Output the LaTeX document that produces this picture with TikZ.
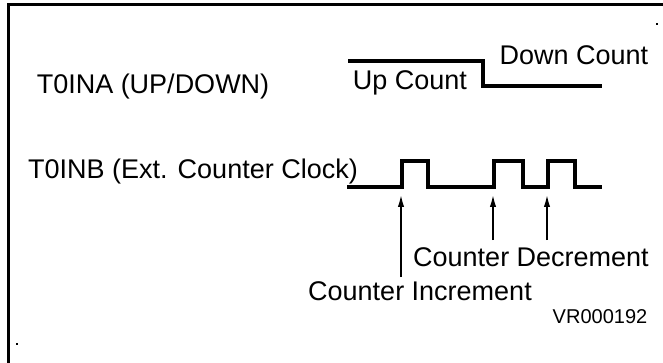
\documentclass[tikz,border=0pt]{standalone}
\usepackage{fontspec}
\setmainfont{Liberation Sans}
\usetikzlibrary{arrows.meta}
\tikzset{
  wave/.style={line width=2pt, line join=miter},
  caption/.style={inner sep=0pt, font=\fontsize{13.5}{15}\selectfont},
  pointer/.style={line width=1pt, -{Latex[length=6.5pt,width=3.2pt]}},
}
\begin{document}
\begin{tikzpicture}[x=0.5pt,y=-0.5pt]
  \useasboundingbox (0,0) rectangle (663,363);
  \clip (0,0) rectangle (663,363);
  % frame
  \draw[line width=1.5pt] (8,370) -- (8,5) -- (670,5);
  \fill (656,23) rectangle (658,25);
  \fill (16,343) rectangle (18,345);

  % signal names
  \node[caption] (ina) at (153,87) {T0INA (UP/DOWN)};
  \node[caption] (inb) at (193,172) {T0INB (Ext. Counter Clock)};

  % up/down level
  \draw[wave] (348,61) -- (483,61) -- (483,86) -- (602,86);
  \node[caption] (up) at (410,83) {Up Count};
  \node[caption] (down) at (574,55) {Down Count};

  % counter clock
  \draw[wave] (347,187)
    foreach \r/\f in {402/428, 494/523, 548/575} {
      -- (\r,187) -- (\r,161) -- (\f,161) -- (\f,187)
    } -- (602,187);

  % edge markers
  \coordinate (e1) at (401,194);
  \coordinate (e2) at (493,194);
  \coordinate (e3) at (547,194);
  \coordinate (t1) at (401,277);
  \coordinate (t2) at (493,240);
  \coordinate (t3) at (547,240);
  \draw[pointer] (t1) -- (e1);
  \draw[pointer] (t2) -- (e2);
  \draw[pointer] (t3) -- (e3);
  \node[caption] (dec) at (531,257) {Counter Decrement};
  \node[caption] (inc) at (420,291) {Counter Increment};
  \node[caption, font=\fontsize{10}{12}\selectfont] (ref) at (600,317) {VR000192};
\end{tikzpicture}
\end{document}
